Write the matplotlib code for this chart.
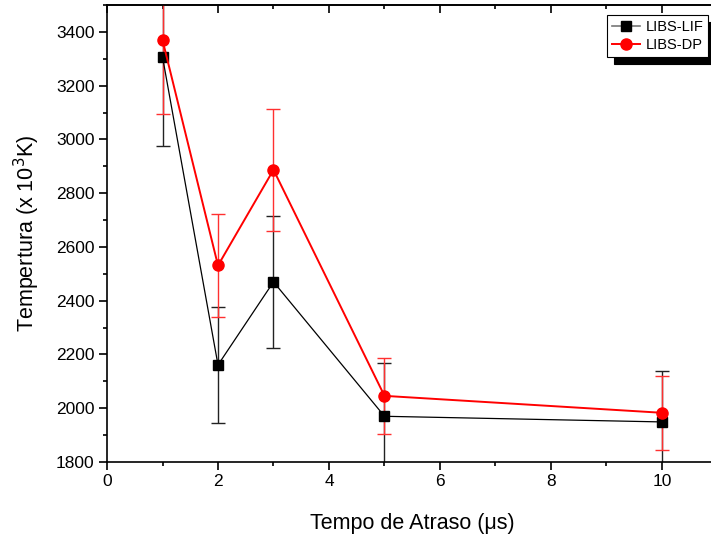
import matplotlib.pyplot as plt
from matplotlib.lines import Line2D
from matplotlib.ticker import MultipleLocator

plt.rcParams['font.family'] = ['Liberation Sans', 'DejaVu Sans']

# dados
tempo = [1, 2, 3, 5, 10]
temp_lif = [3307, 2161, 2470, 1970, 1949]
err_lif = [331, 216, 246, 198, 190]
temp_dp = [3370, 2531, 2887, 2046, 1983]
err_dp = [275, 192, 227, 142, 138]

fig = plt.figure(figsize=(7.11, 5.38), dpi=100)
ax = fig.add_axes([0.1505, 0.1413, 0.8586, 0.8494])

lif = ax.errorbar(tempo, temp_lif, yerr=err_lif, color='black', lw=0.9,
                  marker='s', markersize=7, ecolor='#222222', elinewidth=1,
                  capsize=5, capthick=1)
for cap in lif[1]:
    cap.set_color('#888888')

dp = ax.errorbar(tempo, temp_dp, yerr=err_dp, color='red', lw=1.4,
                 marker='o', markersize=8, ecolor='#ff3030', elinewidth=1,
                 capsize=5, capthick=1)

ax.set_xlim(0, 11)
ax.set_ylim(1800, 3500)
ax.xaxis.set_major_locator(MultipleLocator(2))
ax.xaxis.set_minor_locator(MultipleLocator(1))
ax.yaxis.set_major_locator(MultipleLocator(200))
ax.yaxis.set_minor_locator(MultipleLocator(100))
ax.tick_params(which='both', labelsize=12.5, width=1.2, pad=3)
ax.tick_params(which='major', length=6)
ax.tick_params(which='minor', length=3)
for s in ax.spines.values():
    s.set_linewidth(1.2)

# ticks no topo apontando para dentro
top = ax.secondary_xaxis('top')
top.xaxis.set_major_locator(MultipleLocator(2))
top.xaxis.set_minor_locator(MultipleLocator(1))
top.tick_params(which='both', direction='in', labeltop=False, width=1.2)
top.tick_params(which='major', length=6)
top.tick_params(which='minor', length=3)
top.spines['top'].set_linewidth(1.2)

ax.set_xlabel('Tempo de Atraso (\u03bcs)', fontsize=15.5, labelpad=17)
ax.set_ylabel('Tempertura (x 10$^3$K)', fontsize=15.5, labelpad=10)

handles = [
    Line2D([], [], color='#777777', lw=1.2, marker='s', markersize=7,
           markerfacecolor='black', markeredgecolor='black'),
    Line2D([], [], color='red', lw=1.4, marker='o', markersize=8),
]
leg = ax.legend(handles, ['LIBS-LIF', 'LIBS-DP'], loc='upper right',
                bbox_to_anchor=(0.985, 0.978), fontsize=10.5,
                fancybox=False, edgecolor='black', framealpha=1,
                borderpad=0.35, handlelength=1.9, handletextpad=0.4,
                labelspacing=0.25, borderaxespad=0,
                shadow={'color': 'black', 'alpha': 1, 'ox': 5, 'oy': -5})
leg.get_frame().set_linewidth(0.8)

fig.savefig('out.png', dpi=100)
